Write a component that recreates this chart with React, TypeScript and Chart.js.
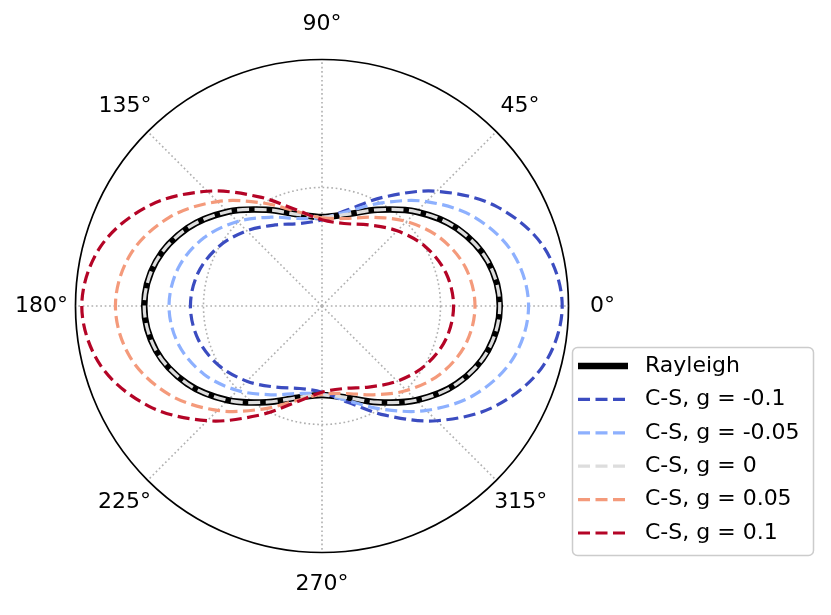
import React, { useEffect, useRef } from 'react';
import { Chart, registerables } from 'chart.js';

Chart.register(...registerables);

// Polar angles (degrees, counter-clockwise from 0° at the right)
const angles = [0, 15, 30, 45, 60, 75, 90, 105, 120, 135, 150, 165, 180, 195, 210, 225, 240, 255, 270, 285, 300, 315, 330, 345];

// Order in which the radar scale walks round (clockwise starting from the top = 90°)
const radarAngles = [90, 75, 60, 45, 30, 15, 0, 345, 330, 315, 300, 285, 270, 255, 240, 225, 210, 195, 180, 165, 150, 135, 120, 105];

// Angle tick labels shown
const angleTicks = [0, 45, 90, 135, 180, 225, 270, 315];

// Radial gridline(s) and axis limit
const rGrid = [1];
const rMax = 2.08;

// Series values at each angle in `angles`
const rayleigh = [1.5, 1.4498, 1.3125, 1.125, 0.9375, 0.8002, 0.75, 0.8002, 0.9375, 1.125, 1.3125, 1.4498, 1.5, 1.4498, 1.3125, 1.125, 0.9375, 0.8002, 0.75, 0.8002, 0.9375, 1.125, 1.3125, 1.4498];
const csGm010 = [2.0269, 1.9346, 1.6891, 1.369, 1.0638, 0.8404, 0.7279, 0.7205, 0.7897, 0.897, 1.0046, 1.0821, 1.1102, 1.0821, 1.0046, 0.897, 0.7897, 0.7205, 0.7279, 0.8404, 1.0638, 1.369, 1.6891, 1.9346];
const csGm005 = [1.743, 1.6751, 1.4918, 1.2461, 1.0047, 0.826, 0.7444, 0.7645, 0.865, 1.0081, 1.1504, 1.2535, 1.2909, 1.2535, 1.1504, 1.0081, 0.865, 0.7645, 0.7444, 0.826, 1.0047, 1.2461, 1.4918, 1.6751];
const csG000 = [1.5, 1.4498, 1.3125, 1.125, 0.9375, 0.8002, 0.75, 0.8002, 0.9375, 1.125, 1.3125, 1.4498, 1.5, 1.4498, 1.3125, 1.125, 0.9375, 0.8002, 0.75, 0.8002, 0.9375, 1.125, 1.3125, 1.4498];
const csGp005 = [1.2909, 1.2535, 1.1504, 1.0081, 0.865, 0.7645, 0.7444, 0.826, 1.0047, 1.2461, 1.4918, 1.6751, 1.743, 1.6751, 1.4918, 1.2461, 1.0047, 0.826, 0.7444, 0.7645, 0.865, 1.0081, 1.1504, 1.2535];
const csGp010 = [1.1102, 1.0821, 1.0046, 0.897, 0.7897, 0.7205, 0.7279, 0.8404, 1.0638, 1.369, 1.6891, 1.9346, 2.0269, 1.9346, 1.6891, 1.369, 1.0638, 0.8404, 0.7279, 0.7205, 0.7897, 0.897, 1.0046, 1.0821];

const seriesLabels = ['Rayleigh', 'C-S, g = -0.1', 'C-S, g = -0.05', 'C-S, g = 0', 'C-S, g = 0.05', 'C-S, g = 0.1'];
const seriesValues = [rayleigh, csGm010, csGm005, csG000, csGp005, csGp010];
const seriesColors = ['#000000', '#3b4cc0', '#8db0fe', '#dddddd', '#f49a7b', '#b40426'];

const toRadar = (s: number[]) => radarAngles.map((a) => s[angles.indexOf(a)]);

// label placement (padding from circle, and line box height) per shown angle
const labelPads: Record<number, number> = { 90: 22.3, 270: 15.7, 0: 21.5, 180: 7.5, 45: 6, 135: -5.4, 225: -4.7, 315: -3 };
const labelLineH: Record<number, number> = { 90: 26.4, 270: 33, 0: 26.4, 180: 26.4, 45: 43, 135: 58, 225: 51.4, 315: 49 };

const FONT = '"DejaVu Sans", sans-serif';

const legendPlugin = {
  id: 'customLegend',
  afterDraw(chart: any) {
    const ctx = chart.ctx as CanvasRenderingContext2D;
    ctx.save();
    const bx = 572.5, by = 347.5, bw = 241, bh = 208;
    ctx.beginPath();
    (ctx as any).roundRect(bx, by, bw, bh, 5);
    ctx.fillStyle = 'rgba(255,255,255,0.8)';
    ctx.fill();
    ctx.strokeStyle = '#cccccc';
    ctx.lineWidth = 1.5;
    ctx.stroke();
    chart.data.datasets.forEach((ds: any, i: number) => {
      const yy = 366 + i * 33.4;
      ctx.beginPath();
      ctx.setLineDash(ds.borderDash || []);
      ctx.strokeStyle = ds.borderColor;
      ctx.lineWidth = ds.borderWidth;
      ctx.lineCap = 'butt';
      ctx.moveTo(578, yy);
      ctx.lineTo(628, yy);
      ctx.stroke();
      ctx.setLineDash([]);
      ctx.fillStyle = '#000';
      ctx.font = `22px ${FONT}`;
      ctx.textBaseline = 'middle';
      ctx.textAlign = 'left';
      ctx.fillText(ds.label, 645, yy);
    });
    ctx.restore();
  },
};

export default function App() {
  const ref = useRef<HTMLCanvasElement | null>(null);
  useEffect(() => {
    if (!ref.current) return;
    const datasets = seriesValues.map((vals, i) => ({
      label: seriesLabels[i],
      data: toRadar(vals),
      borderColor: seriesColors[i],
      backgroundColor: 'rgba(0,0,0,0)',
      borderWidth: i === 0 ? 6.5 : 3.2,
      borderDash: i === 0 ? [] : [12, 5.5],
      fill: false,
      pointRadius: 0,
      pointHoverRadius: 0,
      tension: 0.34,
      order: seriesValues.length - 1 - i,
    }));
    const chart = new Chart(ref.current, {
      type: 'radar',
      data: { labels: radarAngles, datasets },
      options: {
        animation: false,
        responsive: false,
        devicePixelRatio: 1,
        layout: { padding: { left: 9, right: 208, top: 0, bottom: 1 } },
        plugins: { legend: { display: false }, tooltip: { enabled: false } },
        scales: {
          r: {
            min: 0,
            max: rMax,
            startAngle: 0,
            afterBuildTicks: (s: any) => {
              s.ticks = [0, ...rGrid, rMax].map((v) => ({ value: v }));
            },
            ticks: { display: false },
            grid: {
              circular: true,
              color: (c: any) => (c.index === rGrid.length + 1 ? '#000000' : '#b0b0b0'),
              lineWidth: (c: any) => (c.index === rGrid.length + 1 ? 1.7 : 1.6),
            },
            border: {
              dash: (c: any) => (c.index === rGrid.length + 1 ? [] : [1.7, 2.7]),
            },
            angleLines: {
              display: true,
              color: '#b0b0b0',
              lineWidth: (c: any) => (angleTicks.includes(radarAngles[c.index]) ? 1.6 : 0),
              borderDash: [1.7, 2.7],
            },
            pointLabels: {
              display: true,
              color: '#000000',
              font: (c: any) => {
                const a = radarAngles[c.index];
                const lh = labelLineH[a];
                return lh ? { family: FONT, size: 22, lineHeight: `${lh}px` } : { family: FONT, size: 22 };
              },
              padding: (c: any) => labelPads[radarAngles[c.index]] ?? 0,
              callback: (v: any) => (angleTicks.includes(Number(v)) ? `${v}°` : ''),
            },
          },
        } as any,
      } as any,
      plugins: [legendPlugin],
    });
    return () => chart.destroy();
  }, []);
  return (
    <div style={{ position: 'fixed', left: 0, top: 0, width: 831, height: 615, background: '#fff' }}>
      <canvas ref={ref} width={831} height={615} style={{ display: 'block' }} />
    </div>
  );
}
